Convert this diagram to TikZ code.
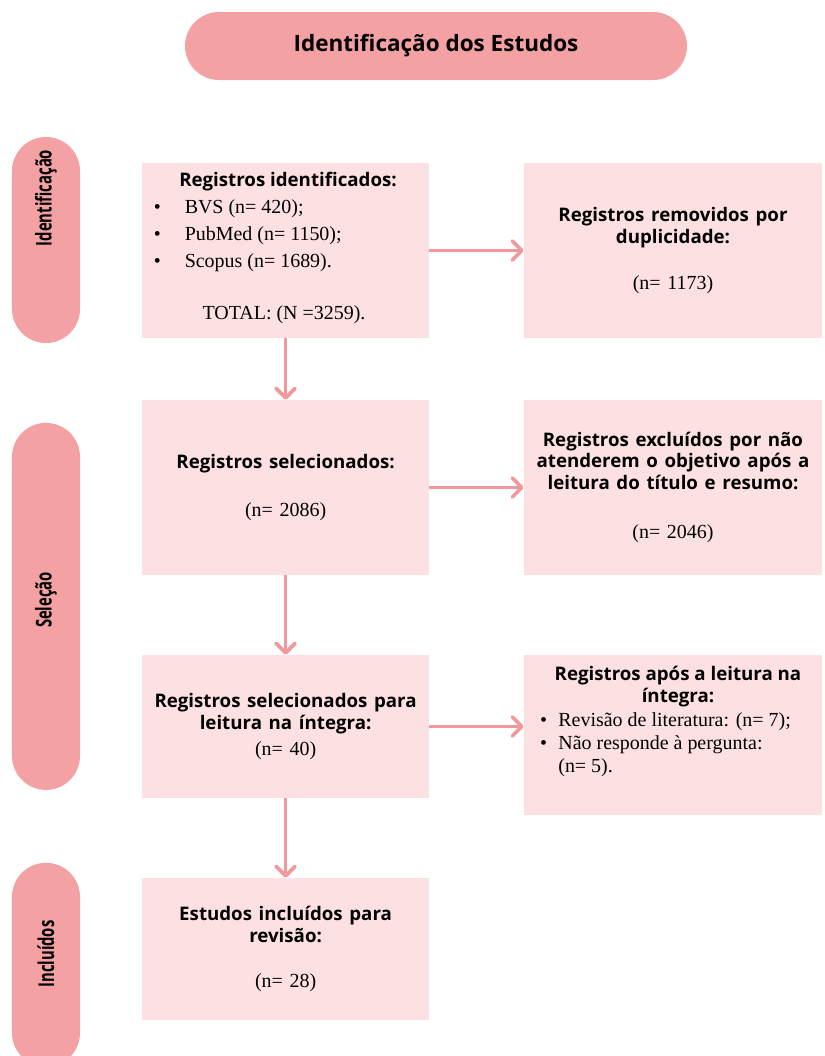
\documentclass[tikz,border=0pt]{standalone}
\usepackage{fontspec}
\setmainfont{Liberation Serif}
\newfontfamily\headfont{Open Sans}
\newfontfamily\sidefont[FakeStretch=0.68]{Open Sans}
\usetikzlibrary{arrows.meta,positioning}
\definecolor{pillpink}{HTML}{F4A1A3}
\definecolor{boxpink}{HTML}{FDE1E2}
\definecolor{arrowpink}{HTML}{F1989C}
\newcommand{\headtxt}{\headfont\bfseries\fontsize{13.3}{15.5}\selectfont}
\newcommand{\bodytxt}{\normalfont\fontsize{14.2}{16.5}\selectfont}

\begin{document}
\begin{tikzpicture}[
    pill/.style={rectangle, fill=pillpink, rounded corners=0.85cm,
        minimum width=1.7cm, inner sep=0pt},
    box/.style={rectangle, fill=boxpink, inner sep=0pt, align=center,
        font=\bodytxt},
    head/.style={align=center, font=\headtxt},
    side/.style={rotate=90, font=\sidefont\bfseries\fontsize{15.5}{17}\selectfont},
    arr/.style={-{Straight Barb[length=2.4mm, width=4.8mm, round]},
        line width=2.6pt, arrowpink}
]
    \useasboundingbox (0,0) rectangle (20.6,-26.4);

    % title and stage pills
    \node[pill, minimum width=12.55cm, minimum height=1.7cm] (title) at (10.9,-1.15)
        {\headfont\bfseries\fontsize{16}{18}\selectfont Identificação dos Estudos};
    \node[pill, minimum height=5.15cm] (pident) at (1.15,-6.0) {};
    \node[pill, minimum height=9.175cm] (psel) at (1.15,-15.16) {};
    \node[pill, minimum height=5.1cm] (pinc) at (1.15,-24.12) {};
    \node[side] (lident) at (1.15,-4.95) {Identificação};
    \node[side] (lsel) at (1.15,-15.0) {Seleção};
    \node[side] (linc) at (1.15,-23.85) {Incluídos};

    % left column
    \node[box, minimum width=7.175cm, minimum height=4.375cm] (found) at (7.14,-6.2625) {};
    \node[head] (foundhead) at (7.2,-4.55) {Registros identificados:};
    \node[anchor=west, font=\bodytxt\fontsize{14.2}{19}\selectfont] (foundlist) at (3.72,-5.875)
        {\begin{tabular}{@{}l@{\hspace{0.6cm}}l@{}}
            \textbullet & BVS (n= 420); \\
            \textbullet & PubMed (n= 1150); \\
            \textbullet & Scopus (n= 1689).
        \end{tabular}};
    \node[font=\bodytxt] (foundtotal) at (7.1,-7.875) {TOTAL: (N =3259).};

    \node[box, text width=7cm, minimum width=7.175cm, minimum height=4.375cm] (selected) at (7.14,-12.1875)
        {\headtxt Registros selecionados:\par\vspace{17.5pt}\bodytxt (n= 2086)};
    \node[box, text width=7cm, minimum width=7.175cm, minimum height=3.575cm] (fulltext) at (7.14,-18.1625)
        {\headtxt Registros selecionados para\\leitura na íntegra:\par\vspace{2.5pt}\bodytxt (n= 40)};
    \node[box, text width=7cm, minimum width=7.175cm, minimum height=3.55cm] (included) at (7.14,-23.725)
        {\headtxt Estudos incluídos para\\revisão:\par\vspace{15.5pt}\bodytxt (n= 28)};

    % right column
    \node[box, text width=7.3cm, minimum width=7.45cm, minimum height=4.375cm] (dupl) at (16.825,-6.2625)
        {\headtxt Registros removidos por\\duplicidade:\par\vspace{16.5pt}\bodytxt (n= 1173)};
    \node[box, text width=7.4cm, minimum width=7.45cm, minimum height=4.375cm] (excl) at (16.825,-12.1875)
        {\headtxt Registros excluídos por não\\atenderem o objetivo após a\\leitura do título e resumo:\par\vspace{18.5pt}\bodytxt (n= 2046)};
    \node[box, minimum width=7.45cm, minimum height=4cm] (after) at (16.825,-18.375) {};
    \node[head] (afterhead) at (16.95,-17.16) {Registros após a leitura na\\íntegra:};
    \node[anchor=west, font=\bodytxt\fontsize{14.2}{16.3}\selectfont] (afterlist) at (13.38,-18.625)
        {\begin{tabular}{@{}l@{\hspace{0.28cm}}l@{}}
            \textbullet & Revisão de literatura: (n= 7); \\
            \textbullet & Não responde à pergunta: \\
                        & (n= 5).
        \end{tabular}};

    % connectors
    \draw[arr] (found) -- (selected);
    \draw[arr] (selected) -- (fulltext);
    \draw[arr] (fulltext) -- (included);
    \draw[arr] (found.east) -- (found.east -| dupl.west);
    \draw[arr] (selected.east) -- (selected.east -| excl.west);
    \draw[arr] (fulltext.east) -- (fulltext.east -| after.west);
\end{tikzpicture}
\end{document}
